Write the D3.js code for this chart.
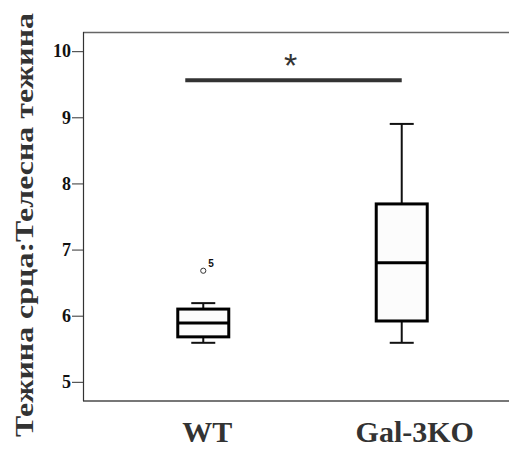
<!DOCTYPE html>
<html>
<head>
<meta charset="utf-8">
<script src="https://cdn.jsdelivr.net/npm/d3@7"></script>
<style>
  body { margin: 0; background: #fff; }
  svg { display: block; }
  text { font-family: "Liberation Serif", "Times New Roman", serif; font-weight: bold; }
</style>
</head>
<body>
<div id="chart"></div>
<script>
// groups and box statistics
var groups = ['WT', 'Gal-3KO'];
var whiskerLow = [5.59, 5.59];
var q1 = [5.68, 5.92];
var median = [5.89, 6.80];
var q3 = [6.10, 7.69];
var whiskerHigh = [6.19, 8.90];
// outliers: group, value, case label
var outGroup = ['WT'];
var outValue = [6.68];
var outLabel = ['5'];
var yTicks = [5, 6, 7, 8, 9, 10];
var sigValue = 9.56;

var W = 509, H = 452;
var LEFT = 83, TOP = 32, BOTTOM = 401;

var svg = d3.select('#chart').append('svg')
  .attr('width', W).attr('height', H);

var y = d3.scaleLinear().domain([4.71, 10.29]).range([BOTTOM, TOP]);
var x = d3.scalePoint().domain(groups).range([LEFT, 522]).padding(0.606);

var BOX_W = 51, CAP_W = 24;

// frame lines
svg.append('line')
  .attr('x1', LEFT).attr('x2', W).attr('y1', TOP + 0.5).attr('y2', TOP + 0.5)
  .attr('stroke', '#666').attr('stroke-width', 1.5);
svg.append('line')
  .attr('x1', LEFT).attr('x2', W).attr('y1', BOTTOM).attr('y2', BOTTOM)
  .attr('stroke', '#777').attr('stroke-width', 2);

// y axis
var yAxis = svg.append('g')
  .attr('transform', 'translate(' + LEFT + ',0)')
  .call(d3.axisLeft(y).tickValues(yTicks).tickSize(11).tickPadding(1).tickFormat(d3.format('d')));
yAxis.select('.domain').attr('stroke', '#333').attr('stroke-width', 1.2)
  .attr('d', 'M0.5,' + TOP + 'V' + BOTTOM);
yAxis.selectAll('.tick line').attr('stroke', '#333');
yAxis.selectAll('.tick text')
  .attr('font-size', 18).attr('fill', '#111')
  .style('font-family', '"Liberation Serif", serif').style('font-weight', 'bold');

// y label
svg.append('text')
  .attr('transform', 'translate(33,225) rotate(-90)')
  .attr('text-anchor', 'middle')
  .attr('font-size', 26)
  .attr('fill', '#333')
  .attr('textLength', 424)
  .attr('lengthAdjust', 'spacingAndGlyphs')
  .text('Тежина срца:Телесна тежина');

// category labels
svg.selectAll('.cat').data(groups).enter().append('text')
  .attr('class', 'cat')
  .attr('x', function(d, i) { return x(d) + (i === 0 ? 4 : 13); })
  .attr('y', 442)
  .attr('text-anchor', 'middle')
  .attr('font-size', 30)
  .attr('fill', '#333')
  .text(function(d) { return d; });

// boxes
var box = svg.selectAll('.box').data(groups).enter().append('g').attr('class', 'box');

box.append('line')
  .attr('x1', function(d) { return x(d); })
  .attr('x2', function(d) { return x(d); })
  .attr('y1', function(d, i) { return y(whiskerHigh[i]); })
  .attr('y2', function(d, i) { return y(q3[i]); })
  .attr('stroke', '#111').attr('stroke-width', 2);
box.append('line')
  .attr('x1', function(d) { return x(d); })
  .attr('x2', function(d) { return x(d); })
  .attr('y1', function(d, i) { return y(q1[i]); })
  .attr('y2', function(d, i) { return y(whiskerLow[i]); })
  .attr('stroke', '#111').attr('stroke-width', 2);
box.append('line')
  .attr('x1', function(d) { return x(d) - CAP_W / 2; })
  .attr('x2', function(d) { return x(d) + CAP_W / 2; })
  .attr('y1', function(d, i) { return y(whiskerHigh[i]); })
  .attr('y2', function(d, i) { return y(whiskerHigh[i]); })
  .attr('stroke', '#111').attr('stroke-width', 2);
box.append('line')
  .attr('x1', function(d) { return x(d) - CAP_W / 2; })
  .attr('x2', function(d) { return x(d) + CAP_W / 2; })
  .attr('y1', function(d, i) { return y(whiskerLow[i]); })
  .attr('y2', function(d, i) { return y(whiskerLow[i]); })
  .attr('stroke', '#111').attr('stroke-width', 2);

box.append('rect')
  .attr('x', function(d) { return x(d) - BOX_W / 2; })
  .attr('width', BOX_W)
  .attr('y', function(d, i) { return y(q3[i]); })
  .attr('height', function(d, i) { return y(q1[i]) - y(q3[i]); })
  .attr('fill', '#fcfcfc')
  .attr('stroke', '#000').attr('stroke-width', 3);
box.append('line')
  .attr('x1', function(d) { return x(d) - BOX_W / 2; })
  .attr('x2', function(d) { return x(d) + BOX_W / 2; })
  .attr('y1', function(d, i) { return y(median[i]); })
  .attr('y2', function(d, i) { return y(median[i]); })
  .attr('stroke', '#000').attr('stroke-width', 3);

// outliers
outValue.forEach(function(v, i) {
  var cx = x(outGroup[i]);
  svg.append('circle')
    .attr('cx', cx).attr('cy', y(v)).attr('r', 2.6)
    .attr('fill', 'none').attr('stroke', '#333').attr('stroke-width', 1);
  svg.append('text')
    .attr('x', cx + 5).attr('y', y(v) - 4)
    .attr('font-size', 10)
    .style('font-family', '"Liberation Sans", Arial, sans-serif')
    .style('font-weight', 'bold')
    .attr('fill', '#111')
    .text(outLabel[i]);
});

// significance bar
var sx1 = x(groups[0]) - 18, sx2 = x(groups[1]);
svg.append('line')
  .attr('x1', sx1).attr('x2', sx2)
  .attr('y1', y(sigValue)).attr('y2', y(sigValue))
  .attr('stroke', '#333').attr('stroke-width', 4);
svg.append('text')
  .attr('x', (sx1 + sx2) / 2 - 3).attr('y', y(sigValue) - 3)
  .attr('text-anchor', 'middle')
  .attr('font-size', 34)
  .style('font-family', '"Liberation Sans", Arial, sans-serif')
  .style('font-weight', 'normal')
  .attr('fill', '#333')
  .text('*');
</script>
</body>
</html>
